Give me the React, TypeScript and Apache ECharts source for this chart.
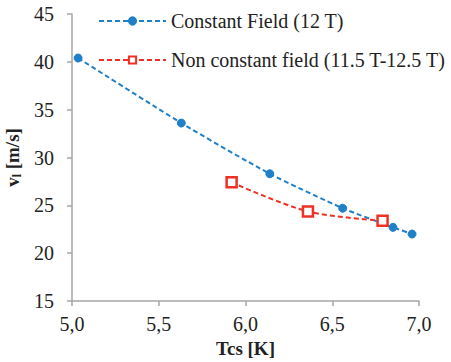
import React, { useEffect, useRef } from "react";
import * as echarts from "echarts";

const constX = [5.035, 5.63, 6.14, 6.56, 6.85, 6.96];
const constY = [40.4, 33.6, 28.3, 24.7, 22.7, 22.0];
const nonConstX = [5.92, 6.36, 6.79];
const nonConstY = [27.4, 24.35, 23.4];
const seriesNames = ["Constant Field (12 T)", "Non constant field (11.5 T-12.5 T)"];

const FONT = "Liberation Serif";

export default function App() {
  const ref = useRef<HTMLDivElement>(null);
  useEffect(() => {
    if (!ref.current) return;
    const chart = echarts.init(ref.current, null, { renderer: "svg" });
    const blue = "#1f80c8";
    const red = "#ee3124";
    const axisColor = "#a6a6a6";
    chart.setOption({
      animation: false,
      textStyle: { fontFamily: FONT },
      grid: { left: 72, right: 32, top: 14, bottom: 61, containLabel: false, outerBoundsMode: "none" },
      legend: {
        orient: "vertical",
        left: 98,
        top: 11,
        padding: 0,
        itemWidth: 67,
        itemHeight: 9,
        itemGap: 19,
        textStyle: { fontFamily: FONT, fontSize: 20, color: "#222" },
        data: seriesNames,
      },
      xAxis: {
        type: "value",
        min: 5,
        max: 7,
        interval: 0.5,
        name: "Tcs [K]",
        nameLocation: "middle",
        nameGap: 37,
        nameTextStyle: { fontFamily: FONT, fontSize: 19, fontWeight: "bold", color: "#222" },
        axisLine: { show: true, lineStyle: { color: axisColor, width: 1.5 } },
        axisTick: { show: true, length: 5, lineStyle: { color: axisColor, width: 1.5 } },
        splitLine: { show: false },
        axisLabel: {
          fontFamily: FONT,
          fontSize: 20,
          color: "#222",
          margin: 13,
          formatter: (v: number) => v.toFixed(1).replace(".", ","),
        },
      },
      yAxis: {
        type: "value",
        min: 15,
        max: 45,
        interval: 5,
        name: "{a|v}{b|l}{a| [m/s]}",
        nameLocation: "middle",
        nameGap: 37,
        nameTextStyle: {
          fontFamily: FONT,
          rich: {
            a: { fontFamily: FONT, fontSize: 19, fontWeight: "bold", color: "#222" },
            b: { fontFamily: FONT, fontSize: 12, fontWeight: "bold", color: "#222", padding: [9, 0, 0, 0] },
          },
        },
        axisLine: { show: true, lineStyle: { color: axisColor, width: 1.5 } },
        axisTick: { show: true, length: 5, lineStyle: { color: axisColor, width: 1.5 } },
        splitLine: { show: false },
        axisLabel: { fontFamily: FONT, fontSize: 20, color: "#222", margin: 18 },
      },
      series: [
        {
          name: seriesNames[0],
          type: "line",
          data: constX.map((x, i) => [x, constY[i]]),
          smooth: 0.2,
          symbol: "circle",
          symbolSize: 8,
          itemStyle: { color: blue, borderColor: blue, borderWidth: 1 },
          lineStyle: { color: blue, width: 2, type: [5, 3] },
        },
        {
          name: seriesNames[1],
          type: "line",
          data: nonConstX.map((x, i) => [x, nonConstY[i]]),
          smooth: 0.3,
          symbol: "rect",
          symbolSize: 10,
          itemStyle: { color: "#ffffff", borderColor: red, borderWidth: 2.5 },
          lineStyle: { color: red, width: 2, type: [5, 3] },
        },
      ],
    });
    return () => chart.dispose();
  }, []);
  return <div ref={ref} style={{ width: 451, height: 362, position: "absolute", left: 0, top: 0 }} />;
}
